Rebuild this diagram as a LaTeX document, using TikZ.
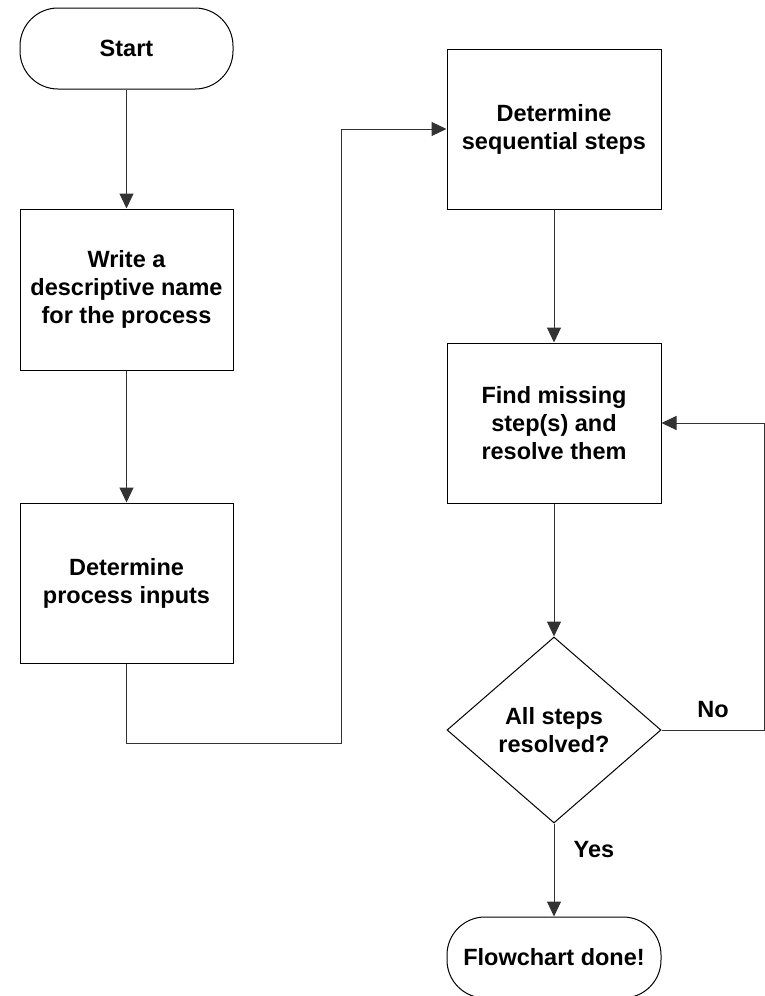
\documentclass[tikz,border=0pt]{standalone}
\usepackage{fontspec}
\setmainfont{Liberation Sans}
\usetikzlibrary{shapes.geometric,arrows.meta}
\tikzset{
  base/.style={draw=black, line width=1pt, fill=white, align=center, inner sep=0pt,
    font=\fontsize{23.5}{28}\selectfont\bfseries},
  terminal/.style={base, rectangle, rounded corners=38pt, minimum width=213pt, minimum height=81pt},
  procbox/.style={base, rectangle, minimum width=213pt, minimum height=160pt},
  decision/.style={base, diamond, minimum width=214pt, minimum height=186pt},
  flow/.style={draw=black!80, line width=1pt, -{Triangle[length=15pt,width=14pt]}},
  plainline/.style={draw=black!80, line width=1pt},
  lbl/.style={font=\fontsize{23.5}{28}\selectfont\bfseries, inner sep=0pt}
}
\begin{document}
\begin{tikzpicture}[x=1pt, y=-1pt]
  \useasboundingbox (0,0) rectangle (765,996);

  % left column
  \node[terminal] (start) at (126.5,48.5) {Start};
  \node[procbox, minimum height=161pt] (name) at (126.5,289.5) {Write a\\descriptive name\\for the process};
  \node[procbox] (inputs) at (126.5,583) {Determine\\process inputs};

  % right column
  \node[procbox, minimum width=214pt] (seq) at (554,129) {Determine\\sequential steps};
  \node[procbox, minimum width=214pt] (missing) at (554,423) {Find missing\\step(s) and\\resolve them};
  \node[decision] (check) at (554,730) {All steps\\resolved?};
  \node[terminal, minimum width=214pt] (done) at (554,957.5) {Flowchart done!};

  % routing points
  \coordinate (jlow) at (341,743);
  \coordinate (jright) at (764,730);

  % connectors
  \draw[flow] (start.south) -- (name.north);
  \draw[flow] (name.south) -- (inputs.north);
  \draw[flow] (inputs.south) |- (jlow) |- (seq.west);
  \draw[flow] (seq.south) -- (missing.north);
  \draw[flow] (missing.south) -- (check.north);
  \draw[flow] (check.east) -- (jright) |- (missing.east);
  \draw[flow] (check.south) -- (done.north);

  % branch labels
  \node[lbl] (nolbl) at (713,710) {No};
  \node[lbl] (yeslbl) at (594,850) {Yes};
\end{tikzpicture}
\end{document}
